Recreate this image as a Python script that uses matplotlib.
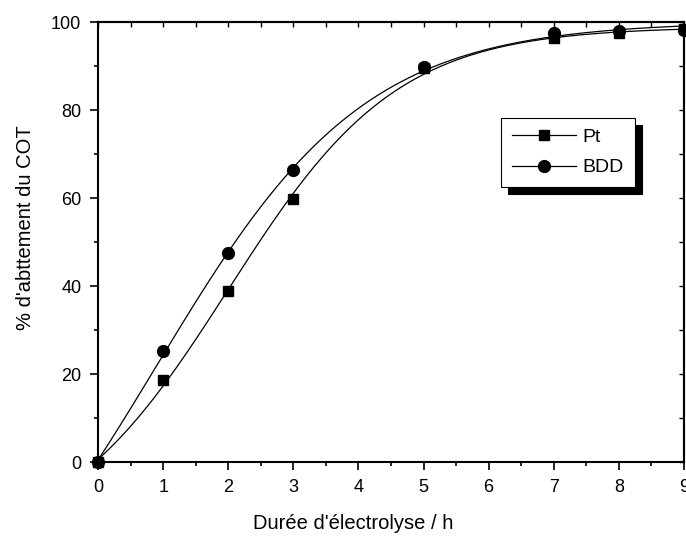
import numpy as np
import matplotlib
matplotlib.use("Agg")
import matplotlib.pyplot as plt
from matplotlib.ticker import MultipleLocator

plt.rcParams['font.family'] = ['Liberation Sans', 'DejaVu Sans']

# Data
hours = [0, 1, 2, 3, 5, 7, 8, 9]
pt_vals = [0, 18.7, 38.9, 59.7, 89.5, 96.3, 97.4, 98.3]
bdd_vals = [0, 25.3, 47.4, 66.3, 89.8, 97.5, 98.0, 98.1]
x_label = "Durée d'électrolyse / h"
y_label = "% d'abttement du COT"


def fit_curve(x, y, xs):
    # Boltzmann fit y = A2 + (A1 - A2) / (1 + exp((x - x0)/dx)); grid over (x0, dx)
    x = np.asarray(x, float)
    y = np.asarray(y, float)
    best = None
    for x0 in np.linspace(0.0, 5.0, 101):
        for dx in np.linspace(0.3, 4.0, 75):
            s = 1 / (1 + np.exp((x - x0) / dx))
            M = np.column_stack([s, 1 - s])
            coef, *_ = np.linalg.lstsq(M, y, rcond=None)
            err = np.sum((M @ coef - y) ** 2)
            if best is None or err < best[0]:
                best = (err, coef, x0, dx)
    _, (A1, A2), x0, dx = best
    s = 1 / (1 + np.exp((xs - x0) / dx))
    return A1 * s + A2 * (1 - s)


fig = plt.figure(figsize=(6.86, 5.41), dpi=100)
ax = fig.add_axes([0.1429, 0.1460, 0.8542, 0.8133])

xs = np.linspace(0, 9, 300)
for vals, mk, ms, lab in [(pt_vals, 's', 7.5, 'Pt'), (bdd_vals, 'o', 8.5, 'BDD')]:
    ax.plot(xs, fit_curve(hours, vals, xs), color='black', lw=0.9, zorder=2)
    ax.plot(hours, vals, linestyle='none', marker=mk, ms=ms, color='black',
            zorder=3, clip_on=False)
    ax.plot([], [], color='black', lw=0.9, marker=mk, ms=ms, label=lab)

ax.set_xlim(0, 9)
ax.set_ylim(0, 100)
ax.xaxis.set_major_locator(MultipleLocator(1))
ax.xaxis.set_minor_locator(MultipleLocator(0.5))
ax.yaxis.set_major_locator(MultipleLocator(20))
ax.yaxis.set_minor_locator(MultipleLocator(10))
for s in ax.spines.values():
    s.set_linewidth(1.5)
ax.tick_params(which='both', direction='out', width=1.2, labelsize=13, colors='black')
ax.tick_params(which='major', length=6, pad=6)
ax.tick_params(which='minor', length=3)

top = ax.secondary_xaxis('top')
top.xaxis.set_major_locator(MultipleLocator(0.5))
top.tick_params(direction='in', length=3.5, width=1.0, labeltop=False)
right = ax.secondary_yaxis('right')
right.yaxis.set_major_locator(MultipleLocator(10))
right.tick_params(direction='in', length=3.5, width=1.0, labelright=False)
for sa in (top, right):
    for s in sa.spines.values():
        s.set_linewidth(1.5)

ax.set_xlabel(x_label, fontsize=14.5)
ax.set_ylabel(y_label, fontsize=14.5)
ax.xaxis.set_label_coords(0.435, -0.118)
ax.yaxis.set_label_coords(-0.107, 0.532)

leg = ax.legend(loc='upper left', bbox_to_anchor=(0.688, 0.782), borderaxespad=0,
                fontsize=14, handlelength=3.3, frameon=True, fancybox=False,
                edgecolor='black', framealpha=1,
                shadow={'ox': 5, 'oy': -5, 'facecolor': 'black', 'edgecolor': 'black', 'alpha': 1},
                borderpad=0.55, labelspacing=0.65, handletextpad=0.35)
leg.get_frame().set_linewidth(0.8)

fig.savefig('out.png', dpi=100)
